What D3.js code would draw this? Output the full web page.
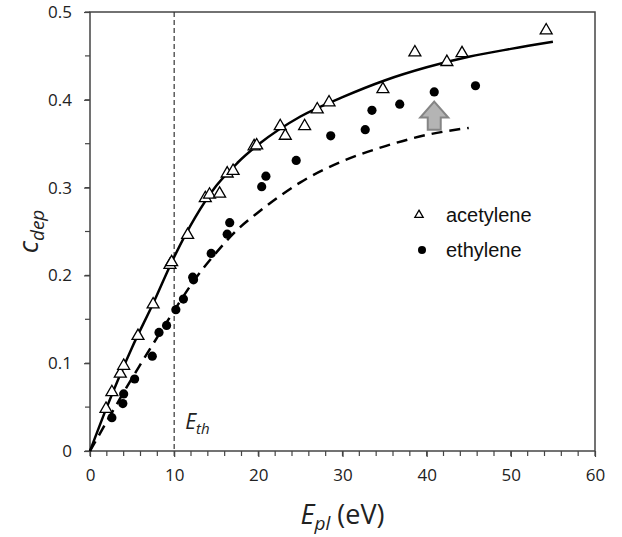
<!DOCTYPE html>
<html>
<head>
<meta charset="utf-8">
<script src="https://cdn.jsdelivr.net/npm/d3@7"></script>
<style>
  body { margin: 0; background: #fff; }
  svg text { font-family: "Open Sans", "Liberation Sans", sans-serif; }
</style>
</head>
<body>
<div id="chart"></div>
<script>
// acetylene (triangles) and ethylene (circles), E_pl in eV vs c_dep
var acetyleneE = [1.9, 2.6, 3.6, 4.0, 5.7, 7.5, 9.5, 9.7, 11.6, 13.7, 14.2, 15.4, 16.3, 17.0, 19.5, 19.8,
                  22.6, 23.2, 25.5, 27.0, 28.4, 34.8, 38.6, 42.4, 44.2, 54.2];
var acetyleneC = [0.048, 0.067, 0.088, 0.097, 0.131, 0.167, 0.212, 0.215, 0.246, 0.288, 0.292, 0.293, 0.316, 0.319, 0.347, 0.348,
                  0.370, 0.359, 0.370, 0.389, 0.397, 0.412, 0.454, 0.443, 0.453, 0.479];
var ethyleneE = [2.6, 3.9, 4.0, 5.3, 7.4, 8.2, 9.1, 10.2, 11.1, 12.2, 12.3, 14.4, 16.3, 16.6, 20.4, 20.9,
                 24.5, 28.6, 32.7, 33.5, 36.8, 40.9, 45.8];
var ethyleneC = [0.038, 0.054, 0.065, 0.082, 0.108, 0.135, 0.143, 0.161, 0.173, 0.198, 0.195, 0.225, 0.247, 0.260, 0.301, 0.313,
                 0.331, 0.359, 0.366, 0.388, 0.395, 0.409, 0.416];
// fitted curves
var solidE = [0, 2, 5, 7.5, 10, 12.5, 15, 17.5, 20, 25, 30, 35, 40, 45, 50, 55];
var solidC = [0, 0.050, 0.118, 0.168, 0.221, 0.266, 0.302, 0.328, 0.349, 0.381, 0.403, 0.422, 0.437, 0.449, 0.458, 0.466];
var dashE = [0, 2.5, 5, 7.5, 10, 12.5, 15, 17.5, 20, 22.5, 25, 30, 35, 40, 45];
var dashC = [0, 0.042, 0.083, 0.122, 0.160, 0.196, 0.226, 0.252, 0.272, 0.290, 0.306, 0.330, 0.347, 0.360, 0.368];
var xTicks = [0, 10, 20, 30, 40, 50, 60];
var yTicks = [0, 0.1, 0.2, 0.3, 0.4, 0.5];
var thresholdE = 10;
var arrowE = 40.9;

var margin = {top: 12, right: 27, bottom: 86, left: 90},
    width = 622 - margin.left - margin.right,
    height = 537 - margin.top - margin.bottom;

var svg = d3.select("#chart").append("svg")
    .attr("width", 622)
    .attr("height", 537)
  .append("g")
    .attr("transform", "translate(" + margin.left + "," + margin.top + ")");

var x = d3.scaleLinear().domain([0, 60]).range([0, width]);
var y = d3.scaleLinear().domain([0, 0.5]).range([height, 0]);

var axisColor = "#444";

// frame
svg.append("rect")
    .attr("width", width).attr("height", height)
    .attr("fill", "none").attr("stroke", axisColor).attr("stroke-width", 1.5);

// minor ticks
svg.append("g").selectAll("line")
    .data(d3.range(0, 61, 2))
    .enter().append("line")
    .attr("x1", function(d) { return x(d); }).attr("x2", function(d) { return x(d); })
    .attr("y1", height).attr("y2", height + 5)
    .attr("stroke", axisColor).attr("stroke-width", 1.2);
svg.append("g").selectAll("line")
    .data(d3.range(0, 0.51, 0.05))
    .enter().append("line")
    .attr("x1", -5).attr("x2", 0)
    .attr("y1", function(d) { return y(d); }).attr("y2", function(d) { return y(d); })
    .attr("stroke", axisColor).attr("stroke-width", 1.2);

var xAxis = svg.append("g")
    .attr("transform", "translate(0," + height + ")")
    .call(d3.axisBottom(x).tickValues(xTicks).tickSize(6).tickPadding(12).tickFormat(d3.format("d")));
var yAxis = svg.append("g")
    .call(d3.axisLeft(y).tickValues(yTicks).tickSize(6).tickPadding(12).tickFormat(function(d) { return d === 0 ? "0" : d3.format(".1f")(d); }));
[xAxis, yAxis].forEach(function(a) {
    a.select(".domain").remove();
    a.selectAll("line").attr("stroke", axisColor).attr("stroke-width", 1.2);
    a.selectAll("text").style("font-size", "17px").attr("fill", "#222")
        .style("font-family", "'Open Sans', sans-serif");
});

// threshold line
svg.append("line")
    .attr("x1", x(thresholdE)).attr("x2", x(thresholdE))
    .attr("y1", 0).attr("y2", height)
    .attr("stroke", "#333").attr("stroke-width", 1.2)
    .attr("stroke-dasharray", "5,3");

var eth = svg.append("text")
    .attr("x", x(thresholdE) + 11).attr("y", y(0.025))
    .style("font-size", "21px").attr("fill", "#222");
eth.append("tspan").style("font-style", "italic").text("E");
eth.append("tspan").style("font-style", "italic").style("font-size", "15px").attr("dy", 5).text("th");

// curves
var line = d3.line()
    .x(function(d) { return x(d[0]); })
    .y(function(d) { return y(d[1]); })
    .curve(d3.curveMonotoneX);

svg.append("path")
    .datum(solidE.map(function(e, i) { return [e, solidC[i]]; }))
    .attr("d", line)
    .attr("fill", "none").attr("stroke", "#000").attr("stroke-width", 2.5);

svg.append("path")
    .datum(dashE.map(function(e, i) { return [e, dashC[i]]; }))
    .attr("d", line)
    .attr("fill", "none").attr("stroke", "#000").attr("stroke-width", 2.5)
    .attr("stroke-dasharray", "11,7");

// points
var tri = d3.symbol().type(d3.symbolTriangle).size(62);
svg.append("g").selectAll("path")
    .data(acetyleneE.map(function(e, i) { return [e, acetyleneC[i]]; }))
    .enter().append("path")
    .attr("d", tri)
    .attr("transform", function(d) { return "translate(" + x(d[0]) + "," + y(d[1]) + ")"; })
    .attr("fill", "#fff").attr("stroke", "#000").attr("stroke-width", 1.3);

svg.append("g").selectAll("circle")
    .data(ethyleneE.map(function(e, i) { return [e, ethyleneC[i]]; }))
    .enter().append("circle")
    .attr("cx", function(d) { return x(d[0]); })
    .attr("cy", function(d) { return y(d[1]); })
    .attr("r", 4.6)
    .attr("fill", "#000");

// grey arrow pointing at the ethylene point
var ax = x(arrowE), tipY = y(0.398), baseY = y(0.366), headY = tipY + 16;
svg.append("path")
    .attr("d", "M" + ax + "," + tipY +
        "L" + (ax + 14) + "," + headY +
        "L" + (ax + 6.5) + "," + headY +
        "L" + (ax + 6.5) + "," + baseY +
        "L" + (ax - 6.5) + "," + baseY +
        "L" + (ax - 6.5) + "," + headY +
        "L" + (ax - 14) + "," + headY + "Z")
    .attr("fill", "#b4b4b4").attr("stroke", "#858585").attr("stroke-width", 2)
    .attr("stroke-linejoin", "miter");

// legend
var legend = svg.append("g").attr("transform", "translate(" + (419 - margin.left) + "," + (215 - margin.top) + ")");
legend.append("path")
    .attr("d", d3.symbol().type(d3.symbolTriangle).size(30))
    .attr("fill", "#fff").attr("stroke", "#000").attr("stroke-width", 1.3);
legend.append("circle").attr("cx", 3).attr("cy", 35).attr("r", 4).attr("fill", "#000");
legend.selectAll("text")
    .data(["acetylene", "ethylene"])
    .enter().append("text")
    .attr("x", 27).attr("y", function(d, i) { return 7 + i * 35; })
    .style("font-family", "'Liberation Sans', Arial, sans-serif")
    .style("font-size", "20px").attr("fill", "#111")
    .text(function(d) { return d; });

// axis titles
var xt = svg.append("text")
    .attr("x", width / 2).attr("y", height + 73)
    .attr("text-anchor", "middle")
    .style("font-size", "27px").attr("fill", "#222");
xt.append("tspan").style("font-style", "italic").text("E");
xt.append("tspan").style("font-style", "italic").style("font-size", "19px").attr("dy", 6).text("pl");
xt.append("tspan").attr("dy", -6).text(" (eV)");

var yt = svg.append("text")
    .attr("transform", "translate(" + (-52) + "," + (height / 2) + ") rotate(-90)")
    .attr("text-anchor", "middle")
    .style("font-size", "27px").attr("fill", "#222");
yt.append("tspan").style("font-style", "italic").text("c");
yt.append("tspan").style("font-style", "italic").style("font-size", "19px").attr("dy", 6).text("dep");
</script>
</body>
</html>
